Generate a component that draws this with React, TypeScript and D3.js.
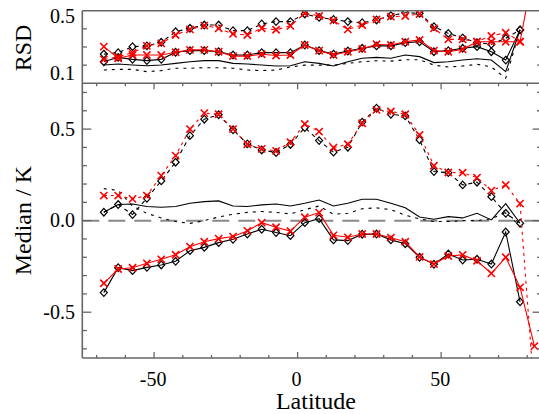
import React from 'react';
import * as d3 from 'd3';

// Latitude bin centres (degrees)
const lats = [-67.5, -62.5, -57.5, -52.5, -47.5, -42.5, -37.5, -32.5, -27.5, -22.5, -17.5, -12.5, -7.5, -2.5, 2.5, 7.5, 12.5, 17.5, 22.5, 27.5, 32.5, 37.5, 42.5, 47.5, 52.5, 57.5, 62.5, 67.5, 72.5, 77.5, 82.5];

// Top panel: RSD
const rsdBlackUpper = [0.261, 0.269, 0.302, 0.306, 0.326, 0.384, 0.403, 0.421, 0.421, 0.39, 0.39, 0.427, 0.44, 0.44, 0.482, 0.463, 0.452, 0.44, 0.434, 0.449, 0.473, 0.489, 0.486, 0.412, 0.375, 0.35, 0.324, 0.315, 0.348, 0.394, null];
const rsdRedUpper = [0.232, 0.245, 0.269, 0.306, 0.32, 0.366, 0.397, 0.418, 0.403, 0.372, 0.366, 0.403, 0.395, 0.416, 0.486, 0.471, 0.445, 0.397, 0.421, 0.452, 0.467, 0.471, 0.482, 0.403, 0.342, 0.342, 0.33, 0.361, 0.379, 0.33, null];
const rsdBlackLower = [0.219, 0.243, 0.232, 0.225, 0.232, 0.271, 0.28, 0.28, 0.274, 0.256, 0.256, 0.269, 0.269, 0.269, 0.311, 0.28, 0.261, 0.278, 0.293, 0.306, 0.306, 0.324, 0.329, 0.274, 0.28, 0.293, 0.302, 0.274, 0.228, 0.394, null];
const rsdRedLower = [0.302, 0.238, 0.256, 0.256, 0.256, 0.271, 0.284, 0.284, 0.274, 0.25, 0.25, 0.26, 0.253, 0.256, 0.311, 0.28, 0.256, 0.274, 0.289, 0.315, 0.311, 0.329, 0.339, 0.28, 0.274, 0.287, 0.329, 0.329, 0.329, 0.329, 0.75];
const rsdBlackSolid = [0.201, 0.206, 0.201, 0.197, 0.201, 0.21, 0.219, 0.225, 0.225, 0.21, 0.206, 0.201, 0.195, 0.197, 0.219, 0.21, 0.195, 0.219, 0.238, 0.243, 0.238, 0.256, 0.247, 0.214, 0.219, 0.228, 0.235, 0.228, 0.164, 0.394, null];
const rsdBlackDashed = [0.173, 0.177, 0.177, 0.164, 0.17, 0.183, 0.183, 0.186, 0.186, 0.183, 0.173, 0.17, 0.173, 0.19, 0.2, 0.2, 0.2, 0.21, 0.219, 0.224, 0.222, 0.23, 0.23, 0.2, 0.19, 0.195, 0.205, 0.19, 0.128, 0.394, null];

// Bottom panel: Median / K
const medBlackUpper = [0.046, 0.088, 0.033, 0.122, 0.217, 0.319, 0.464, 0.554, 0.578, 0.496, 0.419, 0.386, 0.372, 0.416, 0.508, 0.437, 0.374, 0.401, 0.538, 0.614, 0.581, 0.572, 0.441, 0.268, 0.262, 0.195, 0.21, 0.131, 0.04, -0.014, null];
const medRedUpper = [0.137, 0.137, 0.119, 0.137, 0.246, 0.355, 0.5, 0.587, 0.581, 0.5, 0.417, 0.392, 0.381, 0.428, 0.528, 0.486, 0.399, 0.417, 0.532, 0.605, 0.596, 0.581, 0.468, 0.3, 0.263, 0.262, 0.235, 0.164, 0.195, 0.093, -0.95];
const medBlackLower = [-0.393, -0.257, -0.273, -0.255, -0.242, -0.222, -0.164, -0.146, -0.12, -0.102, -0.073, -0.047, -0.065, -0.082, -0.011, 0.011, -0.105, -0.109, -0.074, -0.073, -0.105, -0.126, -0.2, -0.238, -0.182, -0.215, -0.211, -0.237, -0.062, -0.443, null];
const medRedLower = [-0.342, -0.264, -0.257, -0.233, -0.211, -0.186, -0.142, -0.115, -0.098, -0.087, -0.056, -0.011, -0.036, -0.057, 0.019, 0.044, -0.08, -0.091, -0.073, -0.073, -0.093, -0.115, -0.198, -0.237, -0.193, -0.187, -0.219, -0.288, -0.2, -0.364, -0.685];
const medBlackSolid = [0.046, 0.088, 0.091, 0.077, 0.073, 0.077, 0.095, 0.104, 0.108, 0.08, 0.077, 0.086, 0.091, 0.08, 0.095, 0.113, 0.08, 0.095, 0.117, 0.117, 0.095, 0.07, 0.02, 0.008, 0.022, 0.015, 0.04, 0.004, 0.093, -0.014, null];
const medBlackDotted = [0.175, 0.165, 0.08, 0.04, 0.015, -0.005, -0.015, 0.0, 0.02, 0.035, 0.045, 0.05, 0.045, 0.037, 0.06, 0.08, 0.035, 0.04, 0.065, 0.07, 0.06, 0.03, 0.01, -0.005, -0.005, 0.0, 0.0, 0.01, 0.045, -0.03, null];

const xMajorTicks = [-50, 0, 50];
const medMajorTicks = [-0.5, 0, 0.5];
const rsdTickLabels = [0.5, 0.1];
const rsdMinorTicks = [0.2, 0.3, 0.4];

const W = 539, H = 414;
const xLeft = 82.3, xRight = 541.6;
const topY0 = 10.7, midY = 83.3, botY = 358;
const FONT = 'Liberation Serif';
const AX = '#666';

type Series = (number | null)[];

const xScale = d3.scaleLinear().domain([-75, 85]).range([xLeft, xRight]);

function Series({ data, y, color, dash, marker, clip }: { data: Series; y: d3.ScaleLinear<number, number>; color: string; dash?: string; marker?: 'diamond' | 'x'; clip: string }) {
  const x = xScale;
  const line = d3.line<number | null>().defined(v => v != null).x((_, i) => x(lats[i])).y(v => y(v as number));
  const d = line(data) || '';
  return (
    <g clipPath={`url(#${clip})`}>
      <path d={d} fill="none" stroke={color} strokeWidth={1.1} strokeDasharray={dash} />
      {marker && data.map((v, i) => {
        if (v == null) return null;
        const cx = x(lats[i]), cy = y(v);
        if (marker === 'diamond') {
          return <path key={i} d={`M${cx},${cy - 3.8}L${cx + 3.5},${cy}L${cx},${cy + 3.8}L${cx - 3.5},${cy}Z`} fill="none" stroke={color} strokeWidth={1.2} />;
        }
        return <path key={i} d={`M${cx - 3.6},${cy - 3.6}L${cx + 3.6},${cy + 3.6}M${cx - 3.6},${cy + 3.6}L${cx + 3.6},${cy - 3.6}`} fill="none" stroke={color} strokeWidth={1.6} />;
      })}
    </g>
  );
}

export default function App() {
  const x = xScale;
  const yTop = d3.scaleLinear().domain([0.1, 0.5]).range([midY, topY0]);
  const yBot = d3.scaleLinear().domain([-0.75, 0.75]).range([botY, midY]);
  const xTicks = x.ticks(16);
  const yBotTicks = yBot.ticks(15);
  const isMajX = (t: number) => xMajorTicks.some(m => Math.abs(m - t) < 1e-6);
  const isMajY = (t: number) => medMajorTicks.some(m => Math.abs(m - t) < 1e-6);

  return (
    <svg width={W} height={H} style={{ position: 'absolute', left: 0, top: 0, background: '#fff' }} fontFamily={FONT}>
      <defs>
        <clipPath id="clipTop"><rect x={xLeft} y={topY0} width={xRight - xLeft} height={midY - topY0} /></clipPath>
        <clipPath id="clipBot"><rect x={xLeft} y={midY} width={xRight - xLeft} height={botY - midY} /></clipPath>
      </defs>
      <rect width={W} height={H} fill="#fff" />

      {/* zero line */}
      <line x1={xLeft} x2={xRight} y1={yBot(0)} y2={yBot(0)} stroke="#888" strokeWidth={2} strokeDasharray="17,9" />

      {/* top panel */}
      <Series data={rsdBlackSolid} y={yTop} color="#000" clip="clipTop" />
      <Series data={rsdBlackDashed} y={yTop} color="#000" dash="3,5" clip="clipTop" />
      <Series data={rsdBlackUpper} y={yTop} color="#000" dash="4,4" marker="diamond" clip="clipTop" />
      <Series data={rsdBlackLower} y={yTop} color="#000" marker="diamond" clip="clipTop" />
      <Series data={rsdRedUpper} y={yTop} color="#f00" dash="4,4" marker="x" clip="clipTop" />
      <Series data={rsdRedLower} y={yTop} color="#f00" marker="x" clip="clipTop" />

      {/* bottom panel */}
      <Series data={medBlackSolid} y={yBot} color="#000" clip="clipBot" />
      <Series data={medBlackDotted} y={yBot} color="#000" dash="3,5" clip="clipBot" />
      <Series data={medBlackUpper} y={yBot} color="#000" dash="4,4" marker="diamond" clip="clipBot" />
      <Series data={medBlackLower} y={yBot} color="#000" marker="diamond" clip="clipBot" />
      <Series data={medRedUpper} y={yBot} color="#f00" dash="3,4" marker="x" clip="clipBot" />
      <Series data={medRedLower} y={yBot} color="#f00" marker="x" clip="clipBot" />

      {/* frame */}
      <g stroke={AX} strokeWidth={1.6} fill="none">
        <line x1={xLeft} x2={xLeft} y1={topY0} y2={botY} />
        <line x1={xRight} x2={xRight} y1={topY0} y2={botY} />
        <line x1={xLeft} x2={xRight} y1={topY0} y2={topY0} />
        <line x1={xLeft} x2={xRight} y1={midY} y2={midY} />
        <line x1={xLeft} x2={xRight} y1={botY} y2={botY} />
      </g>

      {/* ticks */}
      <g stroke={AX} strokeWidth={1.3}>
        {xTicks.map(t => {
          const len = isMajX(t) ? 6 : 3;
          return (
            <g key={t}>
              <line x1={x(t)} x2={x(t)} y1={botY} y2={botY - len} />
              <line x1={x(t)} x2={x(t)} y1={midY} y2={midY + len} />
            </g>
          );
        })}
        {yBotTicks.map(t => {
          const len = isMajY(t) ? 9 : 4.6;
          return (
            <g key={t}>
              <line x1={xLeft} x2={xLeft + len} y1={yBot(t)} y2={yBot(t)} />
              <line x1={xRight} x2={xRight - len} y1={yBot(t)} y2={yBot(t)} />
            </g>
          );
        })}
        {rsdMinorTicks.map(t => (
          <g key={t}>
            <line x1={xLeft} x2={xLeft + 4.6} y1={yTop(t)} y2={yTop(t)} />
            <line x1={xRight} x2={xRight - 4.6} y1={yTop(t)} y2={yTop(t)} />
          </g>
        ))}
      </g>

      {/* tick labels */}
      <g fontSize={20} fill="#000">
        {xMajorTicks.map(t => (
          <text key={t} x={x(t) - 1} y={386} textAnchor="middle">{t < 0 ? `-${Math.abs(t)}` : `${t}`}</text>
        ))}
        {medMajorTicks.map(t => (
          <text key={t} x={75} y={yBot(t) + 6.8} textAnchor="end">{t < 0 ? `-${Math.abs(t).toFixed(1)}` : t.toFixed(1)}</text>
        ))}
        {rsdTickLabels.map(t => (
          <text key={t} x={75} y={t > 0.3 ? yTop(t) + 12 : yTop(t) - 3} textAnchor="end">{t.toFixed(1)}</text>
        ))}
      </g>

      {/* axis titles */}
      <text x={(xLeft + xRight) / 2 + 4} y={409} textAnchor="middle" fontSize={24}>Latitude</text>
      <text transform={`translate(31,${(topY0 + midY) / 2 + 1}) rotate(-90)`} textAnchor="middle" fontSize={24}>RSD</text>
      <text transform={`translate(31,${(midY + botY) / 2}) rotate(-90)`} textAnchor="middle" fontSize={24}>Median / K</text>
    </svg>
  );
}
